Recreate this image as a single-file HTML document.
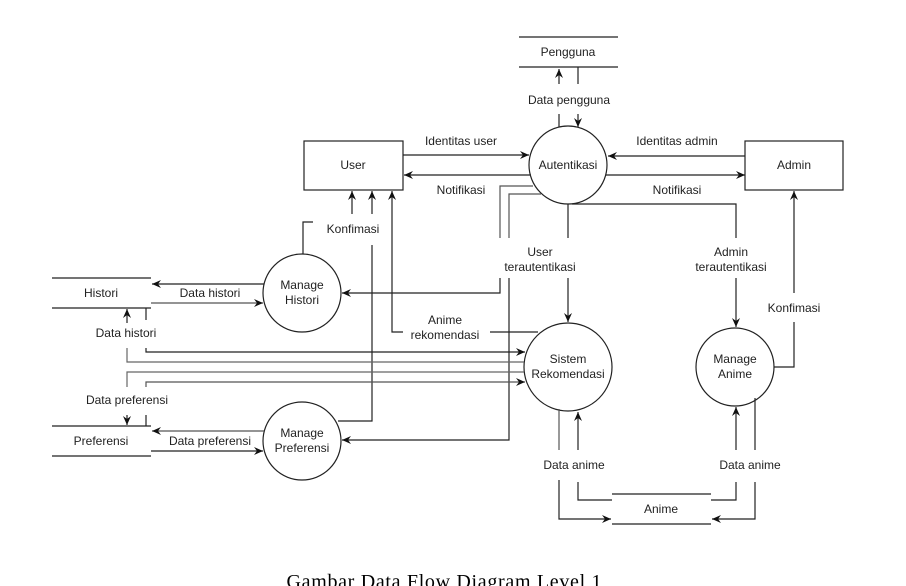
<!DOCTYPE html>
<html><head><meta charset="utf-8"><style>
html,body{margin:0;padding:0;background:#fff;}
svg{display:block;}
text{font-family:"Liberation Sans",sans-serif;font-size:12px;fill:#222;text-anchor:middle;}
</style></head><body>
<svg width="906" height="586" viewBox="0 0 906 586" xmlns="http://www.w3.org/2000/svg">
<defs><marker id="a" markerWidth="10" markerHeight="10" refX="9" refY="5" orient="auto" markerUnits="userSpaceOnUse"><path d="M0,1 L9,5 L0,9 L3,5 z" fill="#111"/></marker></defs>
<g fill="none" stroke="#222" stroke-width="1.2">
<!-- Pengguna store -->
<line x1="519" y1="37" x2="618" y2="37"/><line x1="519" y1="67" x2="618" y2="67"/>
<line x1="559" y1="84" x2="559" y2="69" marker-end="url(#a)"/><line x1="559" y1="114" x2="559" y2="127"/>
<line x1="578" y1="67" x2="578" y2="84"/><line x1="578" y1="114" x2="578" y2="127" marker-end="url(#a)"/>
<!-- circles -->
<circle cx="568" cy="165" r="39"/><circle cx="568" cy="367" r="44"/><circle cx="735" cy="367" r="39"/>
<circle cx="302" cy="293" r="39"/><circle cx="302" cy="441" r="39"/>
<rect x="304" y="141" width="99" height="49"/><rect x="745" y="141" width="98" height="49"/>
<!-- user/admin arrows -->
<line x1="403" y1="155" x2="529" y2="155" marker-end="url(#a)"/>
<line x1="531" y1="175" x2="404" y2="175" marker-end="url(#a)"/>
<line x1="745" y1="156" x2="608" y2="156" marker-end="url(#a)"/>
<line x1="606" y1="175" x2="745" y2="175" marker-end="url(#a)"/>
<!-- admin terautentikasi -->
<polyline points="572,204 736,204 736,238"/><line x1="736" y1="278" x2="736" y2="327" marker-end="url(#a)"/>
<!-- user terautentikasi -->
<line x1="568" y1="204" x2="568" y2="238"/><line x1="568" y1="278" x2="568" y2="322" marker-end="url(#a)"/>
<polyline points="533,186 500,186 500,238" stroke="#555"/><polyline points="500,278 500,293 342,293" marker-end="url(#a)"/>
<polyline points="541,194 509,194 509,238" stroke="#555"/><polyline points="509,278 509,440 342,440" marker-end="url(#a)"/>
<!-- histori store -->
<line x1="52" y1="278" x2="151" y2="278"/><line x1="52" y1="308" x2="151" y2="308"/>
<line x1="264" y1="284" x2="152" y2="284" marker-end="url(#a)"/>
<line x1="151" y1="303" x2="263" y2="303" marker-end="url(#a)" stroke="#555"/>
<!-- preferensi store -->
<line x1="52" y1="426" x2="151" y2="426"/><line x1="52" y1="456" x2="151" y2="456"/>
<line x1="264" y1="431" x2="152" y2="431" marker-end="url(#a)" stroke="#555"/>
<line x1="151" y1="451" x2="263" y2="451" marker-end="url(#a)"/>
<!-- konfimasi to user -->
<polyline points="303,254 303,222 313,222"/>
<line x1="352" y1="214" x2="352" y2="191" marker-end="url(#a)"/>
<line x1="372" y1="214" x2="372" y2="191" marker-end="url(#a)"/>
<polyline points="403,332 392,332 392,191" marker-end="url(#a)"/>
<line x1="490" y1="332" x2="538" y2="332"/>
<polyline points="372,245 372,421 338,421"/>
<!-- data histori to sistem -->
<line x1="127" y1="323" x2="127" y2="309" marker-end="url(#a)"/>
<polyline points="127,348 127,362 524,362" stroke="#666"/>
<line x1="146" y1="308" x2="146" y2="320"/>
<polyline points="146,348 146,352 525,352" marker-end="url(#a)"/>
<polyline points="524,372 127,372 127,387" stroke="#666"/>
<line x1="127" y1="415" x2="127" y2="425" marker-end="url(#a)"/>
<polyline points="146,387 146,382 525,382" marker-end="url(#a)" stroke="#555"/>
<line x1="146" y1="415" x2="146" y2="426"/>
<!-- anime store -->
<line x1="612" y1="494" x2="711" y2="494"/><line x1="612" y1="524" x2="711" y2="524"/>
<line x1="559" y1="409" x2="559" y2="450" stroke="#555"/>
<polyline points="559,480 559,519 611,519" marker-end="url(#a)"/>
<line x1="578" y1="450" x2="578" y2="412" marker-end="url(#a)"/>
<polyline points="578,482 578,500 612,500"/>
<polyline points="711,500 736,500 736,482"/>
<line x1="736" y1="450" x2="736" y2="407" marker-end="url(#a)"/>
<line x1="755" y1="398" x2="755" y2="450"/>
<polyline points="755,482 755,519 712,519" marker-end="url(#a)"/>
<!-- konfimasi admin -->
<polyline points="774,367 794,367 794,322"/>
<line x1="794" y1="293" x2="794" y2="191" marker-end="url(#a)"/>
</g>
<text x="568" y="56">Pengguna</text>
<text x="569" y="104">Data pengguna</text>
<text x="568" y="169">Autentikasi</text>
<text x="353" y="169">User</text>
<text x="794" y="169">Admin</text>
<text x="461" y="145">Identitas user</text>
<text x="461" y="194">Notifikasi</text>
<text x="677" y="145">Identitas admin</text>
<text x="677" y="194">Notifikasi</text>
<text x="540" y="256">User</text><text x="540" y="271">terautentikasi</text>
<text x="731" y="256">Admin</text><text x="731" y="271">terautentikasi</text>
<text x="353" y="233">Konfimasi</text>
<text x="302" y="289">Manage</text><text x="302" y="304">Histori</text>
<text x="302" y="437">Manage</text><text x="302" y="452">Preferensi</text>
<text x="568" y="363">Sistem</text><text x="568" y="378">Rekomendasi</text>
<text x="735" y="363">Manage</text><text x="735" y="378">Anime</text>
<text x="101" y="297">Histori</text>
<text x="210" y="297">Data histori</text>
<text x="101" y="445">Preferensi</text>
<text x="210" y="445">Data preferensi</text>
<text x="126" y="337">Data histori</text>
<text x="127" y="404">Data preferensi</text>
<text x="445" y="324">Anime</text><text x="445" y="339">rekomendasi</text>
<text x="574" y="469">Data anime</text>
<text x="750" y="469">Data anime</text>
<text x="661" y="513">Anime</text>
<text x="794" y="312">Konfimasi</text>
<text x="444" y="588" style="font-family:'Liberation Serif',serif;font-size:20px;fill:#000" textLength="315">Gambar Data Flow Diagram Level 1</text>
</svg>
</body></html>
